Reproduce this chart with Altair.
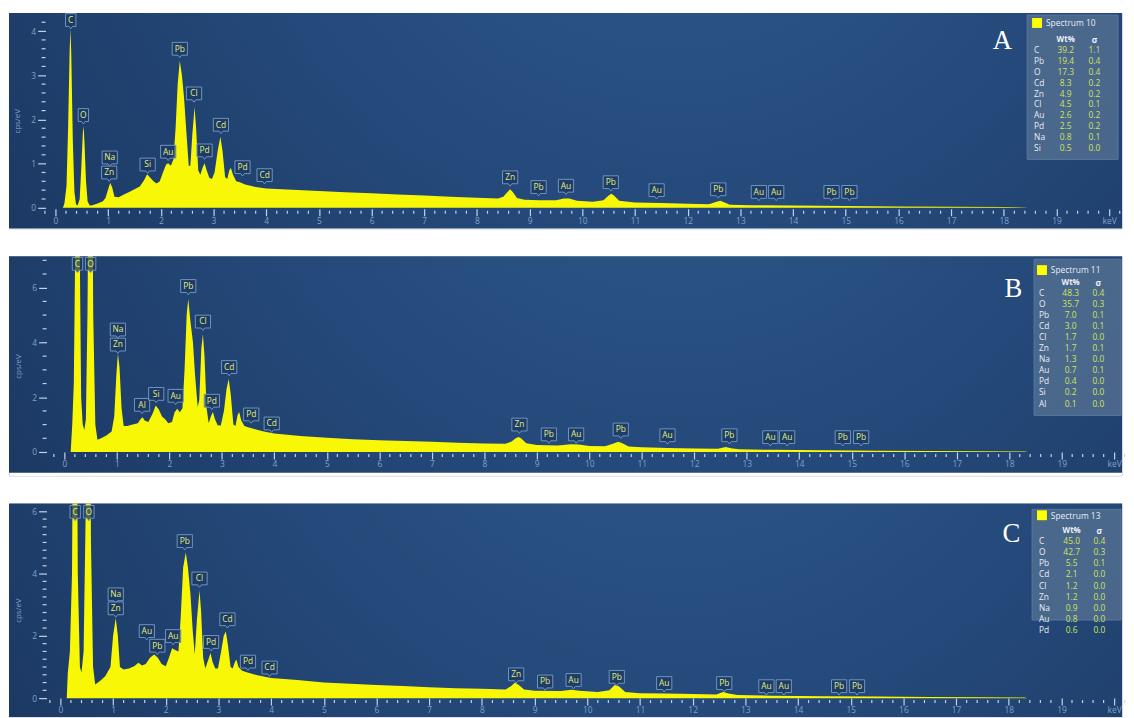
import altair as alt
import pandas as pd

W = 1126
H_A, H_B, H_C = 218, 222, 216
BG_B = 219  # dark panel height of B (rest of its view stays white)

# ---------------- Spectrum 10 (panel A) ----------------
A_KEV = [0.14, 0.17, 0.21, 0.24, 0.27, 0.285, 0.30, 0.33, 0.36, 0.39, 0.42, 0.46, 0.49, 0.52, 0.535, 0.55,
         0.58, 0.61, 0.65, 0.70, 0.80, 0.90, 0.95, 1.00, 1.04, 1.08, 1.12, 1.20, 1.30, 1.40, 1.50, 1.60,
         1.68, 1.74, 1.80, 1.86, 1.92, 1.98, 2.04, 2.10, 2.14, 2.19, 2.24, 2.28, 2.32, 2.36, 2.40, 2.44,
         2.48, 2.53, 2.56, 2.60, 2.64, 2.67, 2.71, 2.75, 2.79, 2.83, 2.87, 2.92, 2.97, 3.02, 3.08, 3.13,
         3.17, 3.22, 3.26, 3.30, 3.33, 3.37, 3.43, 3.50, 3.60, 3.70, 3.80, 4.00, 4.50, 5.00, 5.50, 6.00,
         6.50, 7.00, 7.50, 8.00, 8.40, 8.50, 8.58, 8.63, 8.68, 8.76, 8.90, 9.20, 9.50, 9.65, 9.75, 9.90,
         10.20, 10.40, 10.50, 10.55, 10.60, 10.70, 11.00, 11.50, 12.00, 12.40, 12.55, 12.62, 12.70, 12.80,
         13.20, 14.00, 15.00, 16.00, 17.00, 18.00, 18.40, 18.45]
A_CPS = [0.0, 0.1, 0.5, 1.8, 3.6, 4.05, 3.5, 1.5, 0.35, 0.08, 0.05, 0.2, 0.9, 1.7, 1.85, 1.5,
         0.6, 0.15, 0.05, 0.06, 0.1, 0.15, 0.22, 0.42, 0.57, 0.45, 0.25, 0.24, 0.3, 0.36, 0.42, 0.48,
         0.62, 0.76, 0.68, 0.6, 0.55, 0.6, 0.8, 0.98, 1.01, 0.95, 1.1, 1.8, 2.8, 3.33, 3.0, 2.5,
         1.8, 0.95, 0.95, 1.7, 2.28, 1.8, 0.85, 0.75, 0.9, 1.01, 0.85, 0.68, 0.65, 0.8, 1.3, 1.61,
         1.3, 0.7, 0.65, 0.85, 0.9, 0.75, 0.6, 0.58, 0.53, 0.5, 0.47, 0.44, 0.41, 0.38, 0.35, 0.33,
         0.3, 0.28, 0.25, 0.23, 0.21, 0.25, 0.36, 0.42, 0.36, 0.22, 0.18, 0.17, 0.17, 0.21, 0.21, 0.16,
         0.14, 0.17, 0.28, 0.32, 0.28, 0.16, 0.12, 0.11, 0.09, 0.08, 0.14, 0.16, 0.12, 0.07,
         0.06, 0.05, 0.04, 0.03, 0.025, 0.02, 0.01, 0.0]
A_LAB_EL = ["C", "O", "Na", "Zn", "Si", "Au", "Pb", "Cl", "Pd", "Cd", "Pd", "Cd",
            "Zn", "Pb", "Au", "Pb", "Au", "Pb", "Au", "Au", "Pb", "Pb"]
A_LAB_KEV = [0.29, 0.53, 1.03, 1.02, 1.75, 2.14, 2.36, 2.63, 2.83, 3.14, 3.55, 3.97,
             8.63, 9.17, 9.69, 10.54, 11.41, 12.58, 13.35, 13.68, 14.73, 15.07]
A_LAB_Y = [4.05, 1.9, 0.94, 0.6, 0.78, 1.07, 3.4, 2.39, 1.1, 1.68, 0.72, 0.54,
           0.49, 0.27, 0.3, 0.38, 0.2, 0.22, 0.16, 0.16, 0.16, 0.16]
A_EL = ["C", "Pb", "O", "Cd", "Zn", "Cl", "Au", "Pd", "Na", "Si"]
A_WT = [39.2, 19.4, 17.3, 8.3, 4.9, 4.5, 2.6, 2.5, 0.8, 0.5]
A_SIG = [1.1, 0.4, 0.4, 0.2, 0.2, 0.1, 0.2, 0.2, 0.1, 0.0]

# ---------------- Spectrum 11 (panel B) ----------------
B_KEV = [0.12, 0.15, 0.18, 0.21, 0.25, 0.29, 0.32, 0.35, 0.38, 0.41, 0.44, 0.50, 0.55, 0.59, 0.63,
         0.70, 0.80, 0.90, 0.95, 0.99, 1.02, 1.05, 1.09, 1.13, 1.20, 1.30, 1.40, 1.45, 1.49, 1.53,
         1.60, 1.68, 1.74, 1.80, 1.86, 1.92, 1.98, 2.05, 2.10, 2.15, 2.20, 2.25, 2.29, 2.33, 2.36,
         2.40, 2.45, 2.49, 2.54, 2.57, 2.61, 2.64, 2.67, 2.71, 2.75, 2.79, 2.83, 2.87, 2.92, 2.98,
         3.04, 3.09, 3.13, 3.17, 3.22, 3.26, 3.30, 3.33, 3.37, 3.43, 3.50, 3.60, 3.80, 4.00, 4.50,
         5.00, 5.50, 6.00, 6.50, 7.00, 7.50, 8.00, 8.40, 8.52, 8.60, 8.65, 8.70, 8.80, 9.00, 9.40,
         9.65, 9.80, 10.00, 10.30, 10.45, 10.55, 10.62, 10.75, 11.00, 11.50, 12.00, 12.45, 12.60,
         12.70, 12.85, 13.50, 14.50, 15.50, 16.50, 17.50, 18.30, 18.35]
B_CPS = [0.0, 1.0, 2.5, 8.0, 20.0, 8.0, 2.0, 1.0, 0.8, 1.2, 5.0, 20.0, 5.0, 1.0, 0.45,
         0.5, 0.6, 0.75, 1.3, 2.8, 3.6, 3.1, 1.6, 0.95, 0.95, 1.0, 1.05, 1.2, 1.27, 1.15,
         1.1, 1.4, 1.7, 1.55, 1.3, 1.2, 1.05, 1.1, 1.45, 1.58, 1.45, 1.6, 3.0, 5.0, 5.6,
         4.8, 4.0, 2.8, 1.64, 1.9, 3.8, 4.3, 3.5, 1.6, 1.05, 1.3, 1.46, 1.2, 0.98, 0.97,
         1.5, 2.3, 2.67, 2.1, 1.0, 0.95, 1.35, 1.46, 1.15, 0.95, 0.9, 0.85, 0.75, 0.68, 0.58,
         0.52, 0.47, 0.43, 0.4, 0.37, 0.34, 0.31, 0.3, 0.38, 0.5, 0.55, 0.5, 0.32, 0.26, 0.24,
         0.28, 0.27, 0.22, 0.21, 0.3, 0.37, 0.33, 0.2, 0.17, 0.15, 0.13, 0.12, 0.18,
         0.14, 0.1, 0.08, 0.06, 0.05, 0.04, 0.03, 0.02, 0.0]
B_LAB_EL = ["C", "O", "Na", "Zn", "Al", "Si", "Au", "Pb", "Cl", "Pd", "Cd", "Pd", "Cd",
            "Zn", "Pb", "Au", "Pb", "Au", "Pb", "Au", "Au", "Pb", "Pb"]
B_LAB_KEV = [0.25, 0.5, 1.02, 1.02, 1.48, 1.75, 2.12, 2.36, 2.64, 2.81, 3.14, 3.56, 3.95,
             8.67, 9.23, 9.75, 10.6, 11.49, 12.67, 13.45, 13.77, 14.83, 15.18]
B_LAB_Y = [6.55, 6.55, 4.15, 3.6, 1.4, 1.8, 1.73, 5.74, 4.44, 1.55, 2.78, 1.05, 0.72,
           0.68, 0.32, 0.32, 0.5, 0.29, 0.29, 0.22, 0.22, 0.22, 0.22]
B_EL = ["C", "O", "Pb", "Cd", "Cl", "Zn", "Na", "Au", "Pd", "Si", "Al"]
B_WT = [48.3, 35.7, 7.0, 3.0, 1.7, 1.7, 1.3, 0.7, 0.4, 0.2, 0.1]
B_SIG = [0.4, 0.3, 0.1, 0.1, 0.0, 0.1, 0.0, 0.1, 0.0, 0.0, 0.0]

# ---------------- Spectrum 13 (panel C) ----------------
C_KEV = [0.12, 0.14, 0.18, 0.22, 0.28, 0.33, 0.37, 0.40, 0.44, 0.48, 0.53, 0.58, 0.62, 0.66, 0.75,
         0.85, 0.95, 1.00, 1.05, 1.09, 1.13, 1.20, 1.30, 1.40, 1.48, 1.55, 1.62, 1.70, 1.78, 1.85,
         1.92, 2.00, 2.06, 2.12, 2.17, 2.24, 2.28, 2.33, 2.38, 2.42, 2.47, 2.51, 2.55, 2.59, 2.64,
         2.67, 2.71, 2.75, 2.80, 2.85, 2.89, 2.94, 2.99, 3.05, 3.10, 3.14, 3.18, 3.23, 3.27, 3.31,
         3.34, 3.38, 3.45, 3.55, 3.70, 3.90, 4.00, 4.50, 5.00, 5.50, 6.00, 6.50, 7.00, 7.50, 8.00,
         8.45, 8.55, 8.63, 8.70, 8.80, 9.00, 9.50, 9.70, 9.85, 10.20, 10.42, 10.52, 10.60, 10.72,
         11.00, 11.50, 12.00, 12.45, 12.58, 12.68, 12.85, 13.50, 14.50, 15.50, 16.50, 17.50, 18.30, 18.35]
C_CPS = [0.0, 0.8, 1.5, 4.0, 20.0, 4.0, 1.0, 0.82, 1.5, 6.0, 20.0, 5.0, 1.0, 0.44, 0.55,
         0.7, 1.0, 2.0, 2.57, 2.0, 1.0, 0.92, 0.95, 1.02, 1.14, 1.05, 1.1, 1.3, 1.4, 1.3,
         1.1, 1.02, 1.3, 1.6, 1.55, 1.5, 2.5, 4.2, 4.68, 4.2, 3.3, 2.2, 1.4, 2.5, 3.46,
         2.8, 1.3, 0.95, 1.2, 1.45, 1.15, 0.95, 0.95, 1.5, 2.0, 2.14, 1.7, 1.0, 0.95, 1.15,
         1.24, 1.0, 0.88, 0.82, 0.75, 0.68, 0.65, 0.58, 0.5, 0.46, 0.42, 0.39, 0.35, 0.32, 0.3,
         0.28, 0.38, 0.5, 0.42, 0.28, 0.24, 0.23, 0.27, 0.24, 0.2, 0.25, 0.42, 0.38, 0.2,
         0.16, 0.15, 0.13, 0.12, 0.2, 0.15, 0.1, 0.08, 0.06, 0.05, 0.04, 0.03, 0.02, 0.0]
C_LAB_EL = ["C", "O", "Na", "Zn", "Au", "Pb", "Au", "Pb", "Cl", "Pd", "Cd", "Pd", "Cd",
            "Zn", "Pb", "Au", "Pb", "Au", "Pb", "Au", "Au", "Pb", "Pb"]
C_LAB_KEV = [0.28, 0.54, 1.05, 1.05, 1.64, 1.84, 2.14, 2.36, 2.64, 2.86, 3.17, 3.56, 3.97,
             8.65, 9.2, 9.74, 10.56, 11.46, 12.6, 13.4, 13.73, 14.78, 15.12]
C_LAB_Y = [5.7, 5.7, 3.05, 2.6, 1.87, 1.4, 1.71, 4.76, 3.56, 1.52, 2.25, 0.89, 0.7,
           0.48, 0.25, 0.3, 0.4, 0.2, 0.2, 0.1, 0.1, 0.1, 0.1]
C_EL = ["C", "O", "Pb", "Cd", "Cl", "Zn", "Na", "Au", "Pd"]
C_WT = [45.0, 42.7, 5.5, 2.1, 1.2, 1.2, 0.9, 0.8, 0.6]
C_SIG = [0.4, 0.3, 0.1, 0.0, 0.0, 0.0, 0.0, 0.0, 0.0]

# ---------------- styling ----------------
YELLOW = "#f8f806"
TICK = "#c3d4e8"
LABC = "#7ea2ca"
FONT = "Open Sans"
BG = alt.RadialGradient(
    gradient="radial",
    stops=[alt.GradientStop(color="#2f5c8c", offset=0),
           alt.GradientStop(color="#24497a", offset=0.5),
           alt.GradientStop(color="#1a355e", offset=1)],
    x1=0.6, y1=0.2, x2=0.6, y2=0.2, r1=0, r2=0.8)
PATH_S = "M-0.75,-2.2H0.75V-0.35H0.25L0,0L-0.25,-0.35H-0.75Z"
PATH_W = "M-1.1,-2.2H1.1V-0.35H0.25L0,0L-0.25,-0.35H-1.1Z"
ONE = pd.DataFrame({"k": [0]})


def panel(kev, cps, lab_el, lab_kev, lab_y, els, wts, sigs, title, letter,
          h, bg_h, xdom, ydom, x_off, y_ax, y_major, y_minor_step, leg):
    xs = alt.Scale(domain=xdom, nice=False, zero=False)
    ys = alt.Scale(domain=ydom, nice=False, zero=False)
    ax_y = h + x_off  # pixel row of x axis inside view

    xaxis = alt.Axis(
        values=list(range(0, 21)), labelExpr="datum.value == 20 ? 'keV' : datum.label",
        offset=x_off, tickSize=7, tickColor=TICK, tickWidth=1.2, domain=False, grid=False,
        labelColor=LABC, labelFontSize=8.5, labelFont=FONT, labelPadding=1,
        labelFlush=False, labelOverlap=False, title=None, zindex=1)
    yaxis = alt.Axis(
        values=y_major, offset=-y_ax, tickSize=8, tickColor=TICK, tickWidth=1.2,
        domain=False, grid=False, labelColor=LABC, labelFontSize=8.5, labelFont=FONT,
        labelPadding=2, title="cps/eV", titleColor=LABC, titleFontSize=8,
        titleFont=FONT, titleFontWeight="normal", titlePadding=9, zindex=1)

    bg = alt.Chart(ONE).mark_rect(fill=BG).encode(
        x=alt.value(0), x2=alt.value(W), y=alt.value(0), y2=alt.value(bg_h))

    spec = alt.Chart(pd.DataFrame({"kev": kev, "cps": cps})).mark_area(
        color=YELLOW, clip=True, interpolate="linear").encode(
        x=alt.X("kev:Q", scale=xs, axis=xaxis),
        y=alt.Y("cps:Q", scale=ys, axis=yaxis))

    xminor = [round(-0.2 + 0.2 * i, 2) for i in range(0, 103)]
    xminor = [v for v in xminor if abs(v - round(v)) > 0.01]
    xt = alt.Chart(pd.DataFrame({"kev": xminor})).mark_rule(color=TICK, strokeWidth=1.2).encode(
        x=alt.X("kev:Q", scale=xs, axis=xaxis),
        y=alt.value(ax_y + 2), y2=alt.value(ax_y + 5))

    n = int(round(ydom[1] / y_minor_step)) + 1
    yminor = [round(y_minor_step * i, 3) for i in range(0, n)]
    yminor = [v for v in yminor if v not in y_major and v <= ydom[1] - 0.06]
    yt = alt.Chart(pd.DataFrame({"cps": yminor})).mark_rule(color=TICK, strokeWidth=1.2).encode(
        y=alt.Y("cps:Q", scale=ys, axis=yaxis),
        x=alt.value(y_ax - 4), x2=alt.value(y_ax))

    ldf = pd.DataFrame({"el": lab_el, "kev": lab_kev, "cps": lab_y,
                        "w": ["s" if len(e) == 1 else "w" for e in lab_el]})
    boxes = alt.Chart(ldf).mark_point(
        filled=True, fill="#1b3861", fillOpacity=0.75, stroke="#6f95c0",
        strokeWidth=1, opacity=1, size=196, clip=True).encode(
        x=alt.X("kev:Q", scale=xs, axis=xaxis),
        y=alt.Y("cps:Q", scale=ys, axis=yaxis),
        shape=alt.Shape("w:N", scale=alt.Scale(domain=["s", "w"], range=[PATH_S, PATH_W]),
                        legend=None))
    btxt = alt.Chart(ldf).mark_text(
        font=FONT, fontSize=8.5, color="#e4ee7e", dy=-9, baseline="middle", clip=True).encode(
        x=alt.X("kev:Q", scale=xs, axis=xaxis),
        y=alt.Y("cps:Q", scale=ys, axis=yaxis),
        text="el:N")

    # legend table
    bx1, bx2, by1, by2 = leg["box"]
    lbox = alt.Chart(ONE).mark_rect(fill="#4e6a8e", opacity=0.92, stroke="#5f7ca2").encode(
        x=alt.value(bx1), x2=alt.value(bx2), y=alt.value(by1), y2=alt.value(by2))
    sx, sy = leg["sq"]
    sq = alt.Chart(ONE).mark_rect(fill="#ffff00").encode(
        x=alt.value(sx), x2=alt.value(sx + 10), y=alt.value(sy), y2=alt.value(sy + 10))
    ttl = alt.Chart(ONE).mark_text(font=FONT, fontSize=8.5, color="#e6edf6", align="left",
                                   baseline="middle").encode(
        x=alt.value(leg["title"][0]), y=alt.value(leg["title"][1]), text=alt.value(title))
    hx_w, hx_s, hy = leg["head"]
    hw = alt.Chart(ONE).mark_text(font=FONT, fontSize=8, fontWeight="bold", color="#eef2f8",
                                  align="center", baseline="middle").encode(
        x=alt.value(hx_w), y=alt.value(hy), text=alt.value("Wt%"))
    hs = alt.Chart(ONE).mark_text(font=FONT, fontSize=8.5, fontWeight="bold", color="#eef2f8",
                                  align="center", baseline="middle").encode(
        x=alt.value(hx_s), y=alt.value(hy), text=alt.value("σ"))
    ex, ry, lh = leg["rows"]
    col_el = alt.Chart(ONE).mark_text(font=FONT, fontSize=8.5, color="#e8eef6", align="left",
                                      baseline="top", lineBreak="\n", lineHeight=lh).encode(
        x=alt.value(ex), y=alt.value(ry), text=alt.value("\n".join(els)))
    col_w = alt.Chart(ONE).mark_text(font=FONT, fontSize=8.5, color="#d3e35a", align="center",
                                     baseline="top", lineBreak="\n", lineHeight=lh).encode(
        x=alt.value(hx_w), y=alt.value(ry), text=alt.value("\n".join(f"{v:.1f}" for v in wts)))
    col_s = alt.Chart(ONE).mark_text(font=FONT, fontSize=8.5, color="#d3e35a", align="center",
                                     baseline="top", lineBreak="\n", lineHeight=lh).encode(
        x=alt.value(hx_s), y=alt.value(ry), text=alt.value("\n".join(f"{v:.1f}" for v in sigs)))
    lx, ly = leg["letter"]
    let = alt.Chart(ONE).mark_text(font="Liberation Serif", fontSize=27, color="#ffffff",
                                   align="center", baseline="middle").encode(
        x=alt.value(lx), y=alt.value(ly), text=alt.value(letter))

    return alt.layer(bg, spec, xt, yt, boxes, btxt, lbox, sq, ttl, hw, hs,
                     col_el, col_w, col_s, let).properties(width=W, height=h)


pA = panel(A_KEV, A_CPS, A_LAB_EL, A_LAB_KEV, A_LAB_Y, A_EL, A_WT, A_SIG,
           "Spectrum 10", "A", H_A, H_A, [-0.882, 20.244], [-0.47, 4.407], -20, 37,
           [0, 1, 2, 3, 4], 0.2,
           {"box": [1030, 1122, 2, 148], "sq": [1035, 5], "title": [1049, 10],
            "head": [1069, 1098, 27], "rows": [1037, 33, 11.1], "letter": [1005, 28]})
pB = panel(B_KEV, B_CPS, B_LAB_EL, B_LAB_KEV, B_LAB_Y, B_EL, B_WT, B_SIG,
           "Spectrum 11", "B", H_B, BG_B, [-1.055, 20.15], [-0.866, 7.148], -24, 38,
           [0, 2, 4, 6], 0.5,
           {"box": [1037, 1125, 3, 161], "sq": [1040, 9], "title": [1054, 14],
            "head": [1074, 1102, 27], "rows": [1042, 33, 11.2], "letter": [1016, 33]})
pC = panel(C_KEV, C_CPS, C_LAB_EL, C_LAB_KEV, C_LAB_Y, C_EL, C_WT, C_SIG,
           "Spectrum 13", "C", H_C, H_C, [-0.976, 20.15], [-0.603, 6.254], -19, 38,
           [0, 2, 4, 6], 0.25,
           {"box": [1035, 1125, 6, 118], "sq": [1040, 7], "title": [1054, 13],
            "head": [1075, 1103, 28], "rows": [1042, 34, 11.3], "letter": [1014, 31]})

chart = alt.vconcat(pA, pB, pC, spacing=26).properties(
    padding={"left": 0, "top": 0, "right": 0, "bottom": 0}
).configure_view(strokeWidth=0).configure(background="white")

chart.save("out.html", embed_options={"renderer": "svg", "actions": False})
